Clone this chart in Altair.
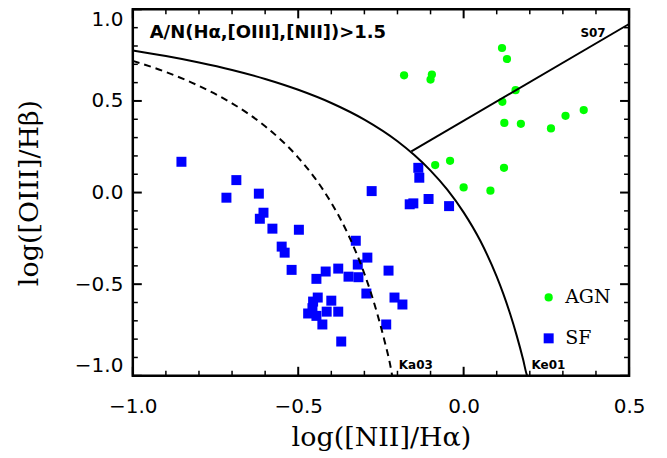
import altair as alt
import pandas as pd

# classification points
agn_x = [-0.180, -0.096, -0.100, 0.116, 0.131, 0.157, 0.117, 0.123, 0.173, 0.264, 0.308, 0.363,
         -0.086, -0.041, 0.122, 0.000, 0.081]
agn_y = [0.640, 0.644, 0.617, 0.789, 0.729, 0.559, 0.495, 0.380, 0.375, 0.350, 0.419, 0.450,
         0.150, 0.173, 0.135, 0.028, 0.010]

sf_x = [-0.853, -0.687, -0.717, -0.619, -0.605, -0.616, -0.578, -0.550, -0.541, -0.498,
        -0.520, -0.445, -0.417, -0.379, -0.348, -0.318, -0.320, -0.326, -0.291, -0.278,
        -0.227, -0.294, -0.209, -0.185, -0.234, -0.441, -0.455, -0.457, -0.470, -0.445,
        -0.414, -0.400, -0.379, -0.427, -0.370, -0.137, -0.134, -0.163, -0.152, -0.106, -0.044]
sf_y = [0.168, 0.068, -0.028, -0.006, -0.110, -0.143, -0.197, -0.295, -0.328, -0.203,
        -0.422, -0.471, -0.431, -0.415, -0.459, -0.462, -0.393, -0.263, -0.355, 0.008,
        -0.426, -0.551, -0.573, -0.611, -0.720, -0.573, -0.595, -0.631, -0.660, -0.673,
        -0.650, -0.590, -0.650, -0.720, -0.813, 0.135, 0.081, -0.064, -0.059, -0.035, -0.074]

# demarcation curves
ke01_x = [-1.0, -0.9, -0.8, -0.7, -0.6, -0.5, -0.4, -0.3, -0.2, -0.15, -0.1, -0.05, 0.0,
          0.05, 0.1, 0.12, 0.14, 0.16, 0.18, 0.19, 0.192]
ke01_y = [0.775, 0.745, 0.710, 0.669, 0.620, 0.561, 0.489, 0.398, 0.280, 0.206, 0.120, 0.017,
          -0.108, -0.262, -0.459, -0.553, -0.659, -0.778, -0.913, -0.989, -1.0]
ka03_x = [-1.0, -0.9, -0.8, -0.7, -0.6, -0.5, -0.45, -0.4, -0.35, -0.3, -0.28, -0.26, -0.24,
          -0.22, -0.216]
ka03_y = [0.719, 0.658, 0.582, 0.487, 0.362, 0.191, 0.080, -0.056, -0.225, -0.443, -0.548,
          -0.668, -0.803, -0.959, -1.0]
s07_x = [-0.158, 0.5]
s07_y = [0.225, 0.92]

x_major = [-1.0, -0.5, 0.0, 0.5]
x_minor = [-0.9, -0.8, -0.7, -0.6, -0.4, -0.3, -0.2, -0.1, 0.1, 0.2, 0.3, 0.4]
y_major = [-1.0, -0.5, 0.0, 0.5, 1.0]
y_minor = [-0.9, -0.8, -0.7, -0.6, -0.4, -0.3, -0.2, -0.1, 0.1, 0.2, 0.3, 0.4,
           0.6, 0.7, 0.8, 0.9]

W, H = 497, 367

xs = alt.Scale(domain=[-1.0, 0.5], nice=False, zero=False)
ys = alt.Scale(domain=[-1.0, 1.0], nice=False, zero=False)
x_axis = alt.Axis(values=x_major, format='.1f', labelPadding=21, titlePadding=8, labelFlush=False)
y_axis = alt.Axis(values=y_major, format='.1f', labelPadding=10, titlePadding=31, labelFlush=True)


def X(field):
    return alt.X(field + ':Q', scale=xs, axis=x_axis, title='log([NII]/Hα)')


def Y(field):
    return alt.Y(field + ':Q', scale=ys, axis=y_axis, title='log([OIII]/Hβ)')


pts = pd.concat([
    pd.DataFrame({'x': sf_x, 'y': sf_y, 'type': 'SF'}),
    pd.DataFrame({'x': agn_x, 'y': agn_y, 'type': 'AGN'}),
])

leg = alt.Legend(title=None, orient='none', legendX=407, legendY=279, padding=0,
                 labelFont='DejaVu Serif', labelFontSize=19, labelColor='black',
                 symbolSize=55, symbolStrokeWidth=0, rowPadding=21, labelOffset=7)

points = alt.Chart(pts).mark_point(filled=True, opacity=1).encode(
    x=X('x'),
    y=Y('y'),
    color=alt.Color('type:N', scale=alt.Scale(domain=['AGN', 'SF'], range=['#00ff00', '#0000ff']),
                    legend=leg),
    shape=alt.Shape('type:N', scale=alt.Scale(domain=['AGN', 'SF'], range=['circle', 'square']),
                    legend=leg),
    size=alt.Size('type:N', scale=alt.Scale(domain=['AGN', 'SF'], range=[68, 100]), legend=None),
)


def curve(xv, yv, dash=None):
    m = alt.Chart(pd.DataFrame({'x': xv, 'y': yv})).mark_line(
        color='black', strokeWidth=2, interpolate='monotone',
        **({'strokeDash': dash} if dash else {}))
    return m.encode(x=X('x'), y=Y('y'))


def ticks(vals, axis, length, width):
    base = alt.Chart(pd.DataFrame({'v': vals})).mark_rule(color='black', strokeWidth=width)
    if axis == 'x':
        return [base.encode(x=X('v'), y=alt.value(H), y2=alt.value(H - length)),
                base.encode(x=X('v'), y=alt.value(0), y2=alt.value(length))]
    return [base.encode(y=Y('v'), x=alt.value(0), x2=alt.value(length)),
            base.encode(y=Y('v'), x=alt.value(W), x2=alt.value(W - length))]


tick_layers = (ticks(x_major, 'x', 9, 2) + ticks(x_minor, 'x', 5, 1.5)
               + ticks(y_major, 'y', 9, 2) + ticks(y_minor, 'y', 5, 1.5))

note = alt.Chart(pd.DataFrame({'x': [-0.949], 'y': [0.842],
                               't': ['A/N(Hα,[OIII],[NII])>1.5']})).mark_text(
    align='left', baseline='alphabetic', font='DejaVu Sans', fontWeight='bold',
    fontSize=18, color='black').encode(x=X('x'), y=Y('y'), text='t:N')

curve_names = alt.Chart(pd.DataFrame({'x': [0.353, -0.196, 0.205], 'y': [0.847, -0.962, -0.962],
                                      't': ['S07', 'Ka03', 'Ke01']})).mark_text(
    align='left', baseline='alphabetic', font='DejaVu Sans', fontWeight='bold',
    fontSize=12, color='black').encode(x=X('x'), y=Y('y'), text='t:N')

chart = alt.layer(
    points,
    curve(ke01_x, ke01_y),
    curve(ka03_x, ka03_y, [7, 5]),
    curve(s07_x, s07_y),
    *tick_layers,
    note,
    curve_names,
).properties(
    width=W, height=H,
    padding={'left': 125, 'top': 1, 'right': 30, 'bottom': 82},
    autosize=alt.AutoSizeParams(type='none'),
).configure_view(
    stroke='black', strokeWidth=2.5
).configure_axis(
    ticks=False, domain=False, grid=False,
    labelFont='DejaVu Sans', labelFontSize=20, labelColor='black',
    titleFont='DejaVu Serif', titleFontSize=27, titleFontWeight='normal', titleColor='black',
)

chart.save("out.html", embed_options={"renderer": "svg", "actions": False})
